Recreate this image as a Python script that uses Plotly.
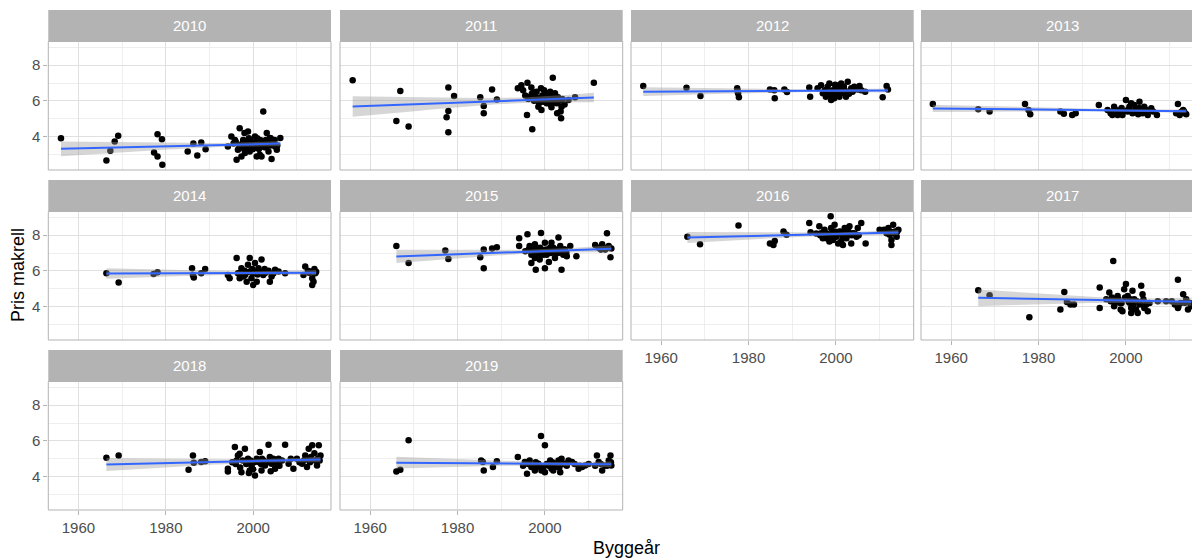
import numpy as np
import plotly.graph_objects as go

# ====== data: (byggeår, pris makrell) ======
years = [2010, 2011, 2012, 2013, 2014, 2015, 2016, 2017, 2018, 2019]

pts_2010 = [(1956, 3.9), (1966.4, 2.65), (1967.3, 3.2), (1968.3, 3.72), (1969.1, 4.04), (1977.3, 3.1),
            (1978.1, 4.13), (1978.1, 2.88), (1979.1, 3.85), (1979.2, 2.42), (1985, 3.16), (1986.3, 3.6),
            (1987.2, 2.94), (1988.1, 3.66), (1989.1, 3.29), (1994.2, 3.44), (1995, 4.0), (1995.8, 3.81),
            (1996.2, 2.7), (1996.5, 3.26), (1996.9, 4.46), (1997, 3.5), (1997.3, 2.88), (1997.7, 3.81),
            (1998, 4.2), (1998.1, 3.07), (1998.5, 3.44), (1998.8, 4.28), (1999, 3.9), (1999.2, 3.16),
            (1999.6, 3.63), (2000, 3.3), (2000.4, 4.0), (2000.8, 2.88), (2001.2, 3.44), (2001.5, 2.98),
            (2001.9, 2.88), (2002, 3.7), (2002.3, 5.4), (2002.7, 3.63), (2003, 3.4), (2003.1, 4.19),
            (2003.5, 3.16), (2003.8, 3.91), (2004, 3.9), (2004.2, 2.74), (2004.6, 3.72), (2005, 3.44),
            (2005.4, 3.26), (2006.2, 3.91),
            (1995.5, 3.6), (1996, 3.7), (1996.8, 3.5), (1997.5, 3.6), (1998.2, 3.7), (1998.7, 3.5),
            (1999.3, 3.8), (1999.8, 3.6), (2000.2, 3.5), (2000.6, 3.7), (2001, 3.6), (2001.6, 3.8),
            (2002.1, 3.5), (2002.6, 3.4), (2003.3, 3.6), (2003.9, 3.5), (2004.4, 3.6), (2004.9, 3.8),
            (2005.5, 3.5), (2000.9, 3.9), (1997.9, 3.3), (1999.5, 3.4), (2002.9, 3.8), (2001.3, 3.3)]

pts_2011 = [(1956, 7.16), (1966, 4.87), (1966.9, 6.55), (1968.8, 4.56), (1977.5, 5.08), (1977.9, 6.75),
            (1977.9, 5.43), (1977.9, 4.24), (1979.2, 6.27), (1985.2, 6.2), (1986, 5.71), (1986, 5.3),
            (1987.9, 6.64), (1989, 6.08), (1993.8, 6.7), (1994.6, 6.88), (1995, 6.6), (1995.9, 5.21),
            (1996, 7.01), (1996.5, 6.23), (1996.9, 6.75), (1997.1, 4.41), (1997.3, 6.45), (1997.7, 6.05),
            (1998.1, 6.51), (1998.5, 5.67), (1998.8, 6.14), (1999.1, 6.7), (1999.2, 5.49), (1999.6, 5.95),
            (2000, 6.33), (2000.4, 5.86), (2000.8, 6.2), (2001.2, 6.51), (2001.5, 5.64), (2001.8, 7.29),
            (2002.3, 6.42), (2002.7, 5.86), (2002.8, 5.3), (2003.1, 6.05), (2003.6, 5.4), (2003.7, 5.02),
            (2003.8, 5.67), (2005.4, 6.05), (2006.9, 6.2), (2011.2, 7.01),
            (1995.5, 6.3), (1996.2, 6.1), (1997, 6.4), (1997.5, 6.0), (1998, 6.2), (1998.7, 5.9),
            (1999.4, 6.3), (2000.2, 6.0), (2000.6, 6.4), (2001, 6.1), (2001.8, 6.0), (2002.1, 6.3),
            (2002.5, 5.9), (2003, 6.2), (2003.4, 6.0), (2004, 6.1), (2004.5, 5.8), (1999.8, 6.6),
            (2001.3, 5.8), (1998.4, 6.0)]

pts_2012 = [(1955.9, 6.83), (1965.8, 6.73), (1969, 6.27), (1977.4, 6.7), (1977.5, 6.57), (1977.6, 6.42),
            (1977.8, 6.2), (1984.9, 6.64), (1985.9, 6.6), (1986, 6.14), (1988.2, 6.64), (1988.8, 6.5),
            (1993.9, 6.75), (1994.1, 6.23), (1995.8, 6.7), (1996.6, 6.88), (1997, 6.42), (1997.3, 6.51),
            (1997.5, 6.6), (1997.7, 6.23), (1998.1, 6.79), (1998.3, 6.4), (1998.5, 6.98), (1998.9, 6.33),
            (1998.9, 6.05), (1999, 6.5), (1999.3, 6.6), (1999.6, 6.14), (1999.6, 6.42), (1999.8, 6.9),
            (2000, 6.88), (2000, 6.3), (2000.4, 6.6), (2000.5, 6.7), (2000.8, 6.23), (2001, 6.5),
            (2001.2, 6.98), (2001.5, 6.7), (2001.8, 6.8), (2001.9, 6.42), (2002, 6.6), (2002.3, 6.23),
            (2002.5, 6.5), (2002.7, 7.07), (2003, 6.4), (2003.5, 6.7), (2003.8, 6.51), (2004, 6.6),
            (2004.2, 6.79), (2005, 6.64), (2005.4, 6.83), (2005.8, 6.6), (2006.7, 6.51), (2010.7, 6.2),
            (2011.6, 6.83), (2011.9, 6.64)]

pts_2013 = [(1955.8, 5.82), (1966.2, 5.53), (1968.8, 5.4), (1976.9, 5.82), (1977.7, 5.49), (1978.1, 5.25),
            (1985, 5.4), (1985.8, 5.27), (1987.7, 5.21), (1988.5, 5.3), (1993.8, 5.77), (1995.8, 5.49),
            (1996.5, 5.3), (1996.9, 5.21), (1997.3, 5.67), (1997.7, 5.49), (1998.1, 5.21), (1998.5, 5.35),
            (1998.8, 5.49), (1999, 5.6), (1999.2, 5.21), (2000, 6.05), (2000.4, 5.4), (2000.5, 5.5),
            (2000.8, 5.67), (2001.2, 5.86), (2001.5, 5.3), (2001.9, 5.77), (2002, 5.4), (2002.3, 5.49),
            (2002.8, 5.25), (2003, 5.6), (2003.1, 5.95), (2003.5, 5.49), (2003.8, 5.3), (2004.2, 5.67),
            (2004.6, 5.49), (2005, 5.21), (2005.8, 5.58), (2006.2, 5.4), (2007.1, 5.21), (2011.5, 5.3),
            (2011.9, 5.82), (2012.3, 5.21), (2012.8, 5.4), (2013.1, 5.49), (2013.5, 5.3), (2013.8, 5.25),
            (1997, 5.4), (1999.5, 5.4), (2001, 5.45), (2003, 5.4), (2004.8, 5.35), (2012.5, 5.35),
            (2013.3, 5.4)]

pts_2014 = [(1966.4, 5.87), (1969.2, 5.35), (1977.2, 5.83), (1978.1, 5.92), (1986, 6.15), (1986.2, 5.77),
            (1986.4, 5.62), (1988.1, 5.87), (1989, 6.1), (1994.2, 5.77), (1994.6, 5.58), (1996.2, 6.72),
            (1996.5, 5.87), (1996.9, 5.58), (1997.3, 6.15), (1997.7, 5.68), (1998, 6.0), (1998.1, 5.77),
            (1998.5, 5.39), (1998.8, 6.34), (1999.2, 6.72), (1999.2, 5.96), (1999.6, 5.58), (1999.8, 6.1),
            (2000, 5.2), (2000.4, 5.96), (2000.4, 6.44), (2000.8, 5.39), (2001, 5.8), (2001.2, 6.15),
            (2001.9, 6.63), (2002.3, 5.77), (2002.6, 6.1), (2003.1, 5.96), (2003.5, 6.0), (2003.8, 5.39),
            (2004.2, 5.68), (2005, 6.06), (2005.8, 5.96), (2007.3, 5.87), (2011.5, 5.77), (2011.9, 6.25),
            (2012.5, 6.0), (2013.1, 5.96), (2013.5, 5.58), (2013.5, 5.2), (2013.8, 5.39), (2014, 6.1),
            (2014.2, 5.87),
            (1997, 5.9), (1998.4, 5.9), (1999.9, 5.85), (2001.4, 5.95), (2002.8, 5.9), (2004.6, 5.85),
            (2012.8, 5.9), (2014.4, 5.95)]

pts_2015 = [(1966, 7.39), (1968.8, 6.44), (1977.2, 7.14), (1977.9, 6.67), (1985.2, 6.76), (1986, 7.2),
            (1986, 6.15), (1987.9, 7.26), (1989, 7.33), (1994.1, 7.83), (1994.1, 7.39), (1996, 8.06),
            (1996.5, 7.39), (1996.9, 6.44), (1996.9, 6.91), (1997.3, 7.01), (1997.7, 7.49), (1997.7, 6.72),
            (1997.9, 6.06), (1998.5, 6.82), (1998.8, 6.63), (1999.1, 8.13), (1999.2, 7.2), (1999.6, 6.91),
            (2000, 7.58), (2000, 6.15), (2000.4, 6.91), (2000.9, 6.5), (2001.2, 7.3), (2001.5, 7.58),
            (2001.9, 7.1), (2002.3, 6.72), (2002.7, 7.01), (2003.1, 7.87), (2003.5, 7.39), (2003.8, 6.06),
            (2004.2, 6.91), (2004.6, 7.2), (2005, 6.82), (2005.8, 7.39), (2007.2, 6.82), (2011.5, 7.45),
            (2012.3, 7.3), (2013.1, 7.49), (2013.8, 7.2), (2014.2, 8.11), (2014.6, 7.39), (2015, 6.76),
            (2015.2, 7.26),
            (1995.5, 7.1), (1996.3, 7.2), (1997, 7.0), (1997.6, 7.2), (1998.2, 7.1), (1998.9, 7.3),
            (1999.5, 7.0), (2000.3, 7.2), (2000.7, 7.1), (2001.4, 7.0), (2001.9, 7.3), (2002.5, 7.2),
            (2003, 7.0), (2003.6, 7.1), (2004.3, 7.2), (2004.9, 7.0), (2013.5, 7.3), (2012.8, 7.2),
            (2014.8, 7.3)]

pts_2016 = [(1966, 7.92), (1968.9, 7.49), (1977.7, 8.55), (1984.9, 7.54), (1985.7, 7.45), (1986, 7.68),
            (1988, 8.21), (1988.7, 8.02), (1993.9, 8.69), (1994.2, 8.17), (1996.2, 8.5), (1996.6, 8.11),
            (1997, 7.83), (1997.4, 8.3), (1997.8, 7.83), (1998.2, 8.02), (1998.5, 7.64), (1998.8, 9.07),
            (1998.9, 8.4), (1999.3, 7.73), (1999.7, 8.59), (1999.7, 8.21), (2000.1, 7.92), (2000.5, 7.54),
            (2000.8, 8.21), (2001.2, 7.64), (2001.6, 7.45), (2002, 8.4), (2002.4, 7.83), (2002.8, 8.02),
            (2003.1, 8.5), (2003.5, 7.54), (2003.9, 8.11), (2004.7, 7.92), (2005, 8.4), (2005.8, 8.69),
            (2006.8, 7.54), (2010, 8.3), (2011.6, 8.11), (2012, 8.4), (2012.3, 8.02), (2012.7, 7.73),
            (2012.7, 7.45), (2013.1, 8.59), (2013.5, 8.21), (2013.9, 7.92), (2014.3, 8.3),
            (1995.5, 8.1), (1996.4, 8.0), (1997.2, 8.2), (1997.9, 8.1), (1998.6, 8.0), (1999.2, 8.2),
            (1999.9, 8.0), (2000.4, 8.1), (2001, 8.2), (2001.5, 7.9), (2002.2, 8.1), (2002.9, 8.2),
            (2003.6, 8.0), (2004.3, 8.1), (2005.2, 8.0), (2012.5, 8.2), (2013.3, 8.1), (2014, 8.2),
            (2011, 8.3)]

pts_2017 = [(1966.2, 4.91), (1968.8, 4.63), (1977.9, 3.39), (1985, 3.83), (1985.9, 4.82), (1986.5, 4.25),
            (1987.3, 4.11), (1988.1, 4.11), (1994, 5.07), (1994, 3.92), (1996.2, 4.78), (1996.5, 4.3),
            (1997.1, 6.55), (1997.3, 4.02), (1998.1, 4.59), (1998.5, 4.21), (1998.8, 3.83), (1999.2, 3.73),
            (1999.6, 4.97), (2000, 5.26), (2000.4, 4.59), (2000.8, 4.21), (2001.2, 3.92), (2001.2, 3.64),
            (2001.5, 4.88), (2001.9, 4.4), (2002.3, 3.83), (2002.7, 3.64), (2003.1, 4.11), (2003.5, 5.16),
            (2003.8, 4.69), (2004.2, 3.92), (2005, 3.73), (2007.3, 4.3), (2009.2, 4.3), (2011.2, 4.11),
            (2011.9, 5.5), (2011.9, 3.92), (2013.1, 4.69), (2013.5, 4.21), (2014.2, 3.83), (2015, 4.02),
            (1995.5, 4.4), (1996.8, 4.5), (1997.6, 4.3), (1998.3, 4.4), (1999, 4.2), (1999.8, 4.5),
            (2000.6, 4.3), (2001, 4.4), (2001.7, 4.1), (2002.5, 4.3), (2003.3, 4.2), (2004, 4.4),
            (2004.6, 4.1), (2005.4, 4.2), (2010.5, 4.3), (2012.5, 4.2), (2013.8, 4.4), (2014.6, 4.2),
            (2012, 4.0)]

pts_2018 = [(1966.4, 5.05), (1969.2, 5.18), (1985.2, 4.38), (1986.2, 5.18), (1986.4, 4.77), (1988.1, 4.81),
            (1989, 4.85), (1994.2, 4.43), (1994.2, 4.28), (1995.8, 5.65), (1996.2, 4.9), (1996.5, 5.18),
            (1996.9, 5.28), (1997, 4.5), (1997.3, 4.24), (1998.1, 5.56), (1998.8, 5.0), (1999, 4.2),
            (1999.2, 4.34), (1999.6, 4.62), (2000, 4.4), (2000.4, 4.06), (2001.2, 4.81), (2001.5, 5.37),
            (2001.9, 4.34), (2002, 5.0), (2002.7, 4.62), (2003.5, 5.78), (2003.8, 5.09), (2004, 4.3),
            (2004.2, 4.71), (2005, 4.43), (2005.8, 5.0), (2006, 4.6), (2007.3, 5.78), (2008.1, 4.71),
            (2009.2, 4.43), (2010, 5.0), (2011.2, 4.71), (2011.9, 5.18), (2012.3, 4.53), (2012.7, 5.56),
            (2013, 4.8), (2013.5, 5.75), (2014, 5.3), (2014.2, 4.9), (2014.6, 4.62), (2015, 5.75),
            (2015.4, 5.18),
            (1995.2, 4.8), (1996, 4.7), (1997.6, 4.9), (1998.4, 4.7), (1999.4, 4.9), (2000.2, 4.8),
            (2000.8, 5.0), (2001.8, 4.7), (2002.4, 4.9), (2003.2, 4.8), (2004.6, 5.0), (2005.4, 4.7),
            (2006.6, 4.9), (2008.6, 5.0), (2010.6, 4.8), (2011.6, 4.9), (2012, 5.0), (2013.2, 5.1),
            (2014.8, 5.0), (2015.2, 4.9)]

pts_2019 = [(1966, 4.28), (1966.9, 4.38), (1968.8, 6.03), (1985.4, 4.9), (1985.8, 4.81), (1986, 4.34),
            (1988.1, 4.53), (1989, 4.85), (1993.8, 5.09), (1995.4, 4.81), (1995.9, 4.15), (1996.5, 4.9),
            (1996.9, 4.53), (1997.7, 4.34), (1998.1, 4.53), (1998.5, 4.71), (1999.1, 6.27), (1999.2, 4.34),
            (2000, 5.75), (2000, 4.24), (2000.8, 4.62), (2001.2, 4.9), (2001.5, 4.43), (2001.9, 4.34),
            (2002.3, 4.53), (2002.7, 4.71), (2003.1, 4.9), (2003.5, 4.24), (2003.8, 5.0), (2004.6, 4.71),
            (2005.4, 4.9), (2006.2, 4.81), (2007.7, 4.43), (2008.5, 4.53), (2009.2, 4.62), (2011.9, 5.18),
            (2012.3, 4.81), (2013.1, 4.34), (2013.8, 4.62), (2014.6, 4.9), (2015, 5.18), (2015.2, 4.62),
            (1995, 4.6), (1996.2, 4.7), (1997.2, 4.6), (1997.9, 4.8), (1998.8, 4.6), (1999.6, 4.5),
            (2000.4, 4.7), (2001, 4.6), (2001.7, 4.8), (2002.5, 4.6), (2003.3, 4.5), (2004.2, 4.7),
            (2005, 4.6), (2006.8, 4.7), (2008, 4.6), (2010, 4.7), (2011.5, 4.6), (2012.8, 4.7),
            (2014.2, 4.6), (2015.1, 4.8)]

panels = [pts_2010, pts_2011, pts_2012, pts_2013, pts_2014,
          pts_2015, pts_2016, pts_2017, pts_2018, pts_2019]

x_ticks = [1960, 1980, 2000]
y_ticks = [4, 6, 8]

# ====== layout (pixels of the 1192x560 page) ======
W, H = 1192, 560
col_x0 = [48.3, 340, 631, 921]
panel_w = 282.7
strip_top = [10, 180, 350]
strip_h = 31.5
panel_h = 128.5
x_range = [1953.1, 2017.8]
y_range = [2.12, 9.33]

FONT = "Liberation Sans, Arial, sans-serif"
BLUE = "#3366FF"
GRID = "#E0E0E0"
MINOR = "#EEEEEE"
BORDER = "#B3B3B3"


def lm_band(px, py, n=80):
    # geom_smooth(method = "lm"): fit + 95% confidence band
    px, py = np.asarray(px, float), np.asarray(py, float)
    k = len(px)
    b, a = np.polyfit(px, py, 1)
    resid = py - (a + b * px)
    s = np.sqrt((resid ** 2).sum() / (k - 2))
    xbar = px.mean()
    sxx = ((px - xbar) ** 2).sum()
    t = 1.96 + 2.37 / (k - 2)
    xs = np.linspace(px.min(), px.max(), n)
    fit = a + b * xs
    se = s * np.sqrt(1 / k + (xs - xbar) ** 2 / sxx)
    return xs, fit, fit - t * se, fit + t * se


fig = go.Figure()
shapes, annotations = [], []
layout = {}

for i, (yr, pts) in enumerate(zip(years, panels)):
    row, col = divmod(i, 4)
    n = i + 1
    xa, ya = ("x" if n == 1 else f"x{n}"), ("y" if n == 1 else f"y{n}")
    bx = [p[0] for p in pts]
    by = [p[1] for p in pts]

    fig.add_trace(go.Scatter(x=bx, y=by, mode="markers", xaxis=xa, yaxis=ya,
                             marker=dict(color="black", size=6.5), hoverinfo="skip"))
    xs, fit, lo, hi = lm_band(bx, by)
    fig.add_trace(go.Scatter(x=np.concatenate([xs, xs[::-1]]), y=np.concatenate([hi, lo[::-1]]),
                             fill="toself", fillcolor="rgba(153,153,153,0.4)", line=dict(width=0),
                             mode="lines", xaxis=xa, yaxis=ya, hoverinfo="skip"))
    fig.add_trace(go.Scatter(x=xs, y=fit, mode="lines", xaxis=xa, yaxis=ya,
                             line=dict(color=BLUE, width=2), hoverinfo="skip"))

    x0 = col_x0[col]
    x1 = min(x0 + panel_w, W)
    top = strip_top[row] + strip_h
    bot = top + panel_h
    xr = list(x_range)
    if x0 + panel_w > W:  # right-most column is cut by the page edge
        xr[1] = x_range[0] + (W - x0) / panel_w * (x_range[1] - x_range[0])

    show_x = (row == 2) or (row == 1 and col >= 2)
    show_y = col == 0
    axkey = "xaxis" if n == 1 else f"xaxis{n}"
    aykey = "yaxis" if n == 1 else f"yaxis{n}"
    layout[axkey] = dict(domain=[x0 / W, x1 / W], range=xr, anchor=ya,
                         tickvals=x_ticks, showticklabels=show_x,
                         ticks="outside" if show_x else "", ticklen=4, tickcolor=BORDER,
                         tickfont=dict(family=FONT, size=15, color="#4D4D4D"),
                         showgrid=True, gridcolor=GRID, gridwidth=1, zeroline=False,
                         minor=dict(tickvals=[1950, 1970, 1990, 2010], showgrid=True,
                                    gridcolor=MINOR, gridwidth=1))
    layout[aykey] = dict(domain=[1 - bot / H, 1 - top / H], range=y_range, anchor=xa,
                         tickvals=y_ticks, showticklabels=show_y,
                         ticks="outside" if show_y else "", ticklen=4, tickcolor=BORDER,
                         tickfont=dict(family=FONT, size=15, color="#4D4D4D"),
                         showgrid=True, gridcolor=GRID, gridwidth=1, zeroline=False,
                         minor=dict(tickvals=[3, 5, 7, 9], showgrid=True,
                                    gridcolor=MINOR, gridwidth=1))

    # panel border and facet strip
    shapes.append(dict(type="rect", xref="paper", yref="paper", layer="above",
                       x0=x0 / W, x1=(x0 + panel_w) / W, y0=1 - bot / H, y1=1 - top / H,
                       line=dict(color=BORDER, width=1)))
    shapes.append(dict(type="rect", xref="paper", yref="paper", layer="above",
                       x0=x0 / W, x1=(x0 + panel_w) / W,
                       y0=1 - top / H, y1=1 - strip_top[row] / H,
                       fillcolor="#B3B3B3", line=dict(width=0)))
    annotations.append(dict(text=str(yr), xref="paper", yref="paper", showarrow=False,
                            xanchor="center", yanchor="middle",
                            x=(x0 + panel_w / 2) / W, y=1 - (strip_top[row] + strip_h / 2) / H,
                            font=dict(family=FONT, size=15, color="white")))

annotations.append(dict(text="Byggeår", xref="paper", yref="paper", showarrow=False,
                        xanchor="center", yanchor="middle",
                        x=626 / W, y=1 - 548 / H, font=dict(family=FONT, size=18, color="black")))
annotations.append(dict(text="Pris makrell", xref="paper", yref="paper", showarrow=False,
                        xanchor="center", yanchor="middle",
                        textangle=-90, x=18 / W, y=1 - 275 / H,
                        font=dict(family=FONT, size=18, color="black")))

fig.update_layout(width=W, height=H, margin=dict(l=0, r=0, t=0, b=0),
                  paper_bgcolor="white", plot_bgcolor="white", showlegend=False,
                  shapes=shapes, annotations=annotations, **layout)

# the page body has an 8px default margin; drop it so the figure fills the window
fig.write_html("out.html", config={"displayModeBar": False},
               post_script="document.body.style.margin='0px';")
